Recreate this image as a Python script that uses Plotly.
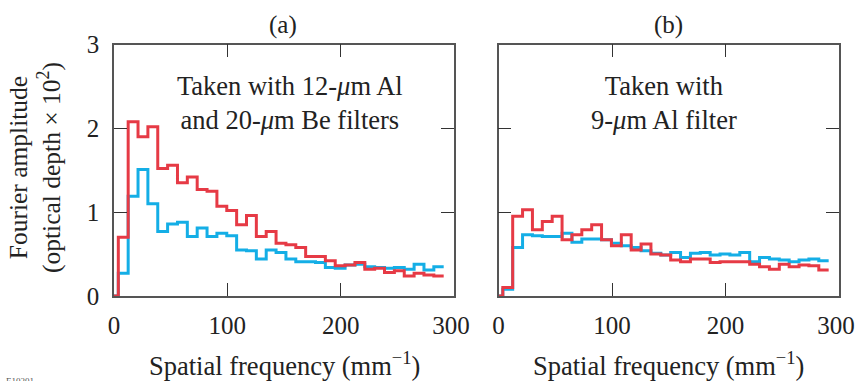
import numpy as np
import plotly.graph_objects as go
from plotly.subplots import make_subplots

# ---- data ----
bin_start = 3.8      # first bin edge (mm^-1)
bin_width = 8.7      # bin width (mm^-1)
n_bins = 34

red_a = [0, 0.70, 2.08, 1.90, 2.02, 1.52, 1.56, 1.35, 1.42, 1.27, 1.25, 1.07, 1.02, 0.85,
         0.96, 0.71, 0.77, 0.63, 0.61, 0.58, 0.47, 0.47, 0.42, 0.36, 0.37, 0.40, 0.32, 0.33,
         0.28, 0.30, 0.24, 0.27, 0.25, 0.24]
blue_a = [0, 0.27, 1.19, 1.51, 1.10, 0.77, 0.86, 0.88, 0.71, 0.81, 0.71, 0.75, 0.72, 0.55,
          0.54, 0.44, 0.55, 0.52, 0.44, 0.41, 0.41, 0.40, 0.34, 0.33, 0.37, 0.38, 0.35, 0.34,
          0.33, 0.34, 0.32, 0.38, 0.31, 0.35]
red_b = [0, 0.10, 0.95, 1.03, 0.79, 0.89, 0.95, 0.67, 0.73, 0.79, 0.85, 0.67, 0.60, 0.73,
         0.55, 0.62, 0.50, 0.49, 0.43, 0.41, 0.44, 0.44, 0.40, 0.41, 0.41, 0.41, 0.38, 0.35,
         0.32, 0.38, 0.35, 0.37, 0.36, 0.31]
blue_b = [0, 0.08, 0.58, 0.73, 0.72, 0.71, 0.71, 0.75, 0.64, 0.68, 0.68, 0.67, 0.63, 0.60,
          0.58, 0.54, 0.51, 0.49, 0.52, 0.46, 0.51, 0.52, 0.49, 0.50, 0.49, 0.52, 0.41, 0.46,
          0.44, 0.43, 0.41, 0.43, 0.44, 0.42]

x_ticks = [0, 100, 200, 300]
x_ticktext = ["0", "100", "200", "300\u00a0"]
y_ticks = [0, 1, 2, 3]
panel_titles = ["(a)", "(b)"]
notes = ["Taken with 12-<i>μ</i>m Al<br>and 20-<i>μ</i>m Be filters",
         "Taken with<br>9-<i>μ</i>m Al filter"]
x_title = "Spatial frequency (mm<sup>−1</sup>)"
y_title = "Fourier amplitude<br>(optical depth × 10<sup>2</sup>)"

# bin edges: 0, then regular edges
edges = [0.0] + [bin_start + bin_width * j for j in range(n_bins)]

RED = "#e63a45"
BLUE = "#14aee6"
FONT = "Liberation Serif"
W, H = 856, 381

def step(vals):
    return edges, list(vals) + [vals[-1]]

fig = make_subplots(rows=1, cols=2)
for col, (r, b) in enumerate([(red_a, blue_a), (red_b, blue_b)], start=1):
    xb, yb = step(b)
    xr, yr = step(r)
    fig.add_trace(go.Scatter(x=xb, y=yb, mode="lines", line=dict(color=BLUE, width=3, shape="hv"),
                             showlegend=False, hoverinfo="skip"), row=1, col=col)
    fig.add_trace(go.Scatter(x=xr, y=yr, mode="lines", line=dict(color=RED, width=3, shape="hv"),
                             showlegend=False, hoverinfo="skip"), row=1, col=col)

ydom = [(H - 296) / H, (H - 44.5) / H]
xdoms = [[114 / W, 454 / W], [498.5 / W, 839 / W]]

axis_common = dict(showline=True, linecolor="#555", linewidth=1.6, mirror="ticks",
                   ticks="inside", ticklen=13, tickwidth=1.4, tickcolor="#333",
                   showgrid=False, zeroline=False, automargin=False,
                   ticklabeloverflow="allow",
                   tickfont=dict(family=FONT, size=25, color="#222"))

fig.update_xaxes(range=[0, 300], tickvals=x_ticks, ticktext=x_ticktext, **axis_common)
fig.update_yaxes(range=[0, 3], tickvals=y_ticks, **axis_common)
fig.update_layout(
    xaxis=dict(domain=xdoms[0], ticklabelstandoff=6),
    xaxis2=dict(domain=xdoms[1], ticklabelstandoff=6),
    yaxis=dict(domain=ydom, ticklabelstandoff=8),
    yaxis2=dict(domain=ydom, showticklabels=False),
)

def px(x, y):
    return x / W, 1 - y / H

ann = []
for cx, t in zip([283, 668], panel_titles):
    x, y = px(cx, 25)
    ann.append(dict(x=x, y=y, text=t, font=dict(family=FONT, size=25, color="#222")))
for cx, t in zip([290, 664], notes):
    x, y = px(cx, 103)
    ann.append(dict(x=x, y=y, text=t, font=dict(family=FONT, size=26.5, color="#222")))
for cx in [284, 668]:
    x, y = px(cx, 364)
    ann.append(dict(x=x, y=y, text=x_title, font=dict(family=FONT, size=26.5, color="#222")))
x, y = px(35, 168)
ann.append(dict(x=x, y=y, text=y_title, textangle=-90, font=dict(family=FONT, size=25.5, color="#222")))

annotations = []
for a in ann:
    d = dict(xref="paper", yref="paper", xanchor="center", yanchor="middle", showarrow=False)
    d.update(a)
    annotations.append(d)
x, y = px(4, 381)
annotations.append(dict(x=x, y=y, xref="paper", yref="paper", xanchor="left", yanchor="middle",
                        showarrow=False, text="E10201", font=dict(family=FONT, size=9, color="#555")))

fig.update_layout(
    width=W, height=H, margin=dict(l=0, r=0, t=0, b=0, autoexpand=False),
    paper_bgcolor="white", plot_bgcolor="white",
    annotations=annotations,
    font=dict(family=FONT),
    hovermode=False,
)

fig.write_html("out.html", config={"displayModeBar": False},
               post_script="document.body.style.margin='0';")
